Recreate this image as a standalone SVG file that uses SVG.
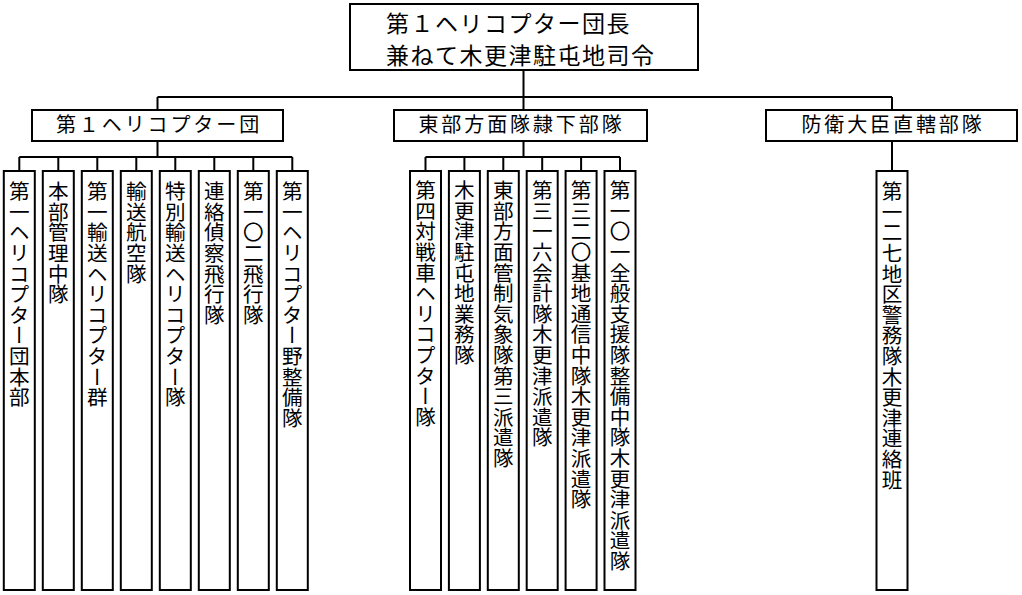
<svg xmlns="http://www.w3.org/2000/svg" width="1022" height="595" viewBox="0 0 1022 595">
<style>
  .box { fill: #ffffff; stroke: #000000; stroke-width: 2; }
  .conn { fill: none; stroke: #000000; stroke-width: 2; }
  text { font-family: "Noto Sans CJK JP", "Noto Sans", sans-serif; fill: #000000; }
  .top { font-size: 23px; letter-spacing: 1.5px; }
  .l2 { font-size: 20px; letter-spacing: 2.9px; text-anchor: middle; }
  .v { font-size: 20.6px; writing-mode: vertical-rl; }
</style>
<rect width="1022" height="595" fill="#ffffff"/>
<g id="connectors">
  <path class="conn" d="M523.5 70 V110 M157.5 97 H892 M157.5 97 V110 M892 97 V110"/>
  <path class="conn" d="M157.5 141 V157 M19.3 157 H292.3 M19.3 157 V171 M58.3 157 V171 M97.3 157 V171 M136.3 157 V171 M175.3 157 V171 M214.3 157 V171 M253.3 157 V171 M292.3 157 V171"/>
  <path class="conn" d="M523.5 141 V157 M425.5 157 H620 M425.5 157 V171 M464.4 157 V171 M503.3 157 V171 M542.2 157 V171 M581.1 157 V171 M620 157 V171"/>
  <path class="conn" d="M892 141 V171"/>
</g>
<g id="n-top">
  <rect class="box" x="350" y="4" width="348" height="66"/>
  <text class="top" x="386" y="32">第１ヘリコプター団長</text>
  <text class="top" x="386" y="63.5">兼ねて木更津駐屯地司令</text>
</g>
<g id="n-heli">
  <rect class="box" x="32" y="110" width="251" height="31"/>
  <text class="l2" x="159" y="132">第１ヘリコプター団</text>
</g>
<g id="n-east">
  <rect class="box" x="394" y="110" width="253" height="31"/>
  <text class="l2" x="521.5" y="132">東部方面隊隷下部隊</text>
</g>
<g id="n-minister">
  <rect class="box" x="766" y="110" width="251" height="31"/>
  <text class="l2" x="893" y="132">防衛大臣直轄部隊</text>
</g>
<g id="c1"><rect class="box" x="3.8" y="171" width="31" height="419"/><text class="v" x="19.3" y="181">第一ヘリコプター団本部</text></g>
<g id="c2"><rect class="box" x="42.8" y="171" width="31" height="419"/><text class="v" x="58.3" y="181">本部管理中隊</text></g>
<g id="c3"><rect class="box" x="81.8" y="171" width="31" height="419"/><text class="v" x="97.3" y="181">第一輸送ヘリコプター群</text></g>
<g id="c4"><rect class="box" x="120.8" y="171" width="31" height="419"/><text class="v" x="136.3" y="181">輸送航空隊</text></g>
<g id="c5"><rect class="box" x="159.8" y="171" width="31" height="419"/><text class="v" x="175.3" y="181">特別輸送ヘリコプター隊</text></g>
<g id="c6"><rect class="box" x="198.8" y="171" width="31" height="419"/><text class="v" x="214.3" y="181">連絡偵察飛行隊</text></g>
<g id="c7"><rect class="box" x="237.8" y="171" width="31" height="419"/><text class="v" x="253.3" y="181">第一〇二飛行隊</text></g>
<g id="c8"><rect class="box" x="276.8" y="171" width="31" height="419"/><text class="v" x="292.3" y="181">第一ヘリコプター野整備隊</text></g>
<g id="m1"><rect class="box" x="410" y="171" width="31" height="419"/><text class="v" x="425.5" y="180">第四対戦車ヘリコプター隊</text></g>
<g id="m2"><rect class="box" x="448.9" y="171" width="31" height="419"/><text class="v" x="464.4" y="180">木更津駐屯地業務隊</text></g>
<g id="m3"><rect class="box" x="487.8" y="171" width="31" height="419"/><text class="v" x="503.3" y="180">東部方面管制気象隊第三派遣隊</text></g>
<g id="m4"><rect class="box" x="526.7" y="171" width="31" height="419"/><text class="v" x="542.2" y="180">第三一六会計隊木更津派遣隊</text></g>
<g id="m5"><rect class="box" x="565.6" y="171" width="31" height="419"/><text class="v" x="581.1" y="180">第三二〇基地通信中隊木更津派遣隊</text></g>
<g id="m6"><rect class="box" x="604.5" y="171" width="31" height="419"/><text class="v" x="620" y="180">第一〇一全般支援隊整備中隊木更津派遣隊</text></g>
<g id="r1"><rect class="box" x="876.5" y="171" width="31" height="419"/><text class="v" x="892" y="181">第一二七地区警務隊木更津連絡班</text></g>
</svg>
